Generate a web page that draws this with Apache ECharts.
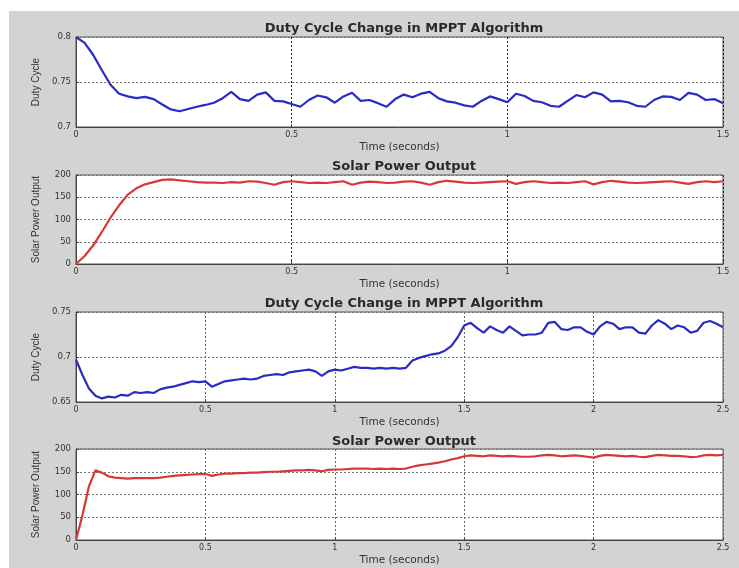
<!DOCTYPE html>
<html>
<head>
<meta charset="utf-8">
<script src="https://cdn.jsdelivr.net/npm/echarts@6/dist/echarts.min.js"></script>
<style>html,body{margin:0;padding:0;background:#fff}#c{width:739px;height:568px}</style>
</head>
<body>
<div id="c"></div>
<script>
// ---- data ----
var titles = ['Duty Cycle Change in MPPT Algorithm', 'Solar Power Output', 'Duty Cycle Change in MPPT Algorithm', 'Solar Power Output'];
var yNames = ['Duty Cycle', 'Solar Power Output', 'Duty Cycle', 'Solar Power Output'];
var xName = 'Time (seconds)';

var time15 = [0,0.02,0.04,0.06,0.08,0.10,0.12,0.14,0.16,0.18,0.20,0.22,0.24,0.26,0.28,0.30,0.32,0.34,0.36,0.38,
  0.40,0.42,0.44,0.46,0.48,0.50,0.52,0.54,0.56,0.58,0.60,0.62,0.64,0.66,0.68,0.70,0.72,0.74,0.76,0.78,
  0.80,0.82,0.84,0.86,0.88,0.90,0.92,0.94,0.96,0.98,1.00,1.02,1.04,1.06,1.08,1.10,1.12,1.14,1.16,1.18,
  1.20,1.22,1.24,1.26,1.28,1.30,1.32,1.34,1.36,1.38,1.40,1.42,1.44,1.46,1.48,1.50];

var duty1 = [0.8000,0.7935,0.7800,0.7630,0.7470,0.7370,0.7340,0.7320,0.7335,0.7310,0.7250,0.7195,0.7175,0.7200,0.7225,0.7245,0.7270,0.7320,0.7390,0.7310,
  0.7290,0.7360,0.7385,0.7290,0.7285,0.7255,0.7225,0.7300,0.7350,0.7330,0.7270,0.7340,0.7380,0.7290,0.7300,0.7265,0.7225,0.7310,0.7360,0.7330,
  0.7370,0.7390,0.7320,0.7285,0.7270,0.7240,0.7225,0.7290,0.7340,0.7310,0.7275,0.7370,0.7345,0.7290,0.7275,0.7235,0.7225,0.7290,0.7355,0.7330,
  0.7385,0.7360,0.7285,0.7290,0.7275,0.7235,0.7225,0.7300,0.7340,0.7335,0.7300,0.7380,0.7360,0.7300,0.7310,0.7265];

var power1 = [0,18,42,72,104,132,156,170,179,184,189,190,188,186,184,183,183,182,184,183,
  186,185,182,178,184,186,184,182,183,182,184,186,178,183,185,184,182,183,185,186,
  183,178,184,187,185,183,182,183,184,185,186,180,184,186,184,182,183,182,184,186,
  179,184,187,185,183,182,183,184,185,186,183,180,184,186,184,186];

var time25 = [0,0.025,0.05,0.075,0.10,0.125,0.15,0.175,0.20,0.225,0.25,0.275,0.30,0.325,0.35,0.375,0.40,0.425,0.45,0.475,
  0.50,0.525,0.55,0.575,0.60,0.625,0.65,0.675,0.70,0.725,0.75,0.775,0.80,0.825,0.85,0.875,0.90,0.925,0.95,0.975,
  1.00,1.025,1.05,1.075,1.10,1.125,1.15,1.175,1.20,1.225,1.25,1.275,1.30,1.325,1.35,1.375,1.40,1.425,1.45,1.475,
  1.50,1.525,1.55,1.575,1.60,1.625,1.65,1.675,1.70,1.725,1.75,1.775,1.80,1.825,1.85,1.875,1.90,1.925,1.95,1.975,
  2.00,2.025,2.05,2.075,2.10,2.125,2.15,2.175,2.20,2.225,2.25,2.275,2.30,2.325,2.35,2.375,2.40,2.425,2.45,2.475,2.50];

var duty2 = [0.697,0.680,0.665,0.657,0.654,0.656,0.655,0.658,0.657,0.661,0.660,0.661,0.660,0.664,0.666,0.667,0.669,0.671,0.673,0.672,
  0.673,0.667,0.670,0.673,0.674,0.675,0.676,0.675,0.676,0.679,0.680,0.681,0.680,0.683,0.684,0.685,0.686,0.684,0.679,0.684,
  0.686,0.685,0.687,0.689,0.688,0.688,0.687,0.688,0.687,0.688,0.687,0.688,0.696,0.699,0.701,0.703,0.704,0.707,0.712,0.722,
  0.735,0.738,0.732,0.727,0.734,0.730,0.727,0.734,0.729,0.724,0.725,0.725,0.727,0.738,0.739,0.731,0.730,0.733,0.733,0.728,
  0.725,0.734,0.739,0.737,0.731,0.733,0.733,0.727,0.726,0.735,0.741,0.737,0.731,0.735,0.733,0.727,0.729,0.738,0.740,0.737,0.733];

var power2 = [0,55,118,153,148,140,137,136,135,136,136,136,136,137,139,141,142,143,144,145,
  145,141,144,146,146,147,147,148,148,149,150,150,151,152,153,153,154,153,151,154,
  155,155,156,157,157,157,156,157,156,157,156,157,161,164,166,168,170,173,177,180,
  184,186,185,184,186,185,184,185,184,183,183,184,186,187,186,184,185,186,185,183,
  181,185,187,186,185,184,185,183,182,185,187,186,185,185,184,182,183,186,187,186,187];

var xTicks15 = [0, 1.5, 0.5];   // min, max, interval
var xTicks25 = [0, 2.5, 0.5];
var dutyTicks1 = [0.7, 0.8, 0.05];
var dutyTicks2 = [0.65, 0.75, 0.05];
var powerTicks = [0, 200, 50];

function pairs(t, v) { return t.map(function (x, i) { return [x, v[i]]; }); }

// ---- layout ----
var gridTops = [37, 175, 312, 449];
var gridHeights = [90, 89, 90, 91];
var titleTops = [17, 155, 292, 430];
var xRanges = [xTicks15, xTicks15, xTicks25, xTicks25];
var yRanges = [dutyTicks1, powerTicks, dutyTicks2, powerTicks];
var seriesData = [pairs(time15, duty1), pairs(time15, power1), pairs(time25, duty2), pairs(time25, power2)];
var colors = ['#2a2ac4', '#d63838', '#2a2ac4', '#d63838'];
var dv = 'DejaVu Sans, Verdana, sans-serif';
var lib = 'Liberation Sans, Arial, sans-serif';

var grids = [], xAxes = [], yAxes = [], series = [], titleArr = [];
for (var i = 0; i < 4; i++) {
  grids.push({left: 76, top: gridTops[i], width: 647, height: gridHeights[i], show: true,
    backgroundColor: '#ffffff', borderColor: '#555', borderWidth: 1, containLabel: false});
  titleArr.push({text: titles[i], left: 399, top: titleTops[i], textAlign: 'center',
    textStyle: {fontSize: 13, fontWeight: 'bold', color: '#2a2a2a', fontFamily: dv}});
  xAxes.push({type: 'value', gridIndex: i, min: xRanges[i][0], max: xRanges[i][1], interval: xRanges[i][2],
    axisLine: {show: true, onZero: false, lineStyle: {color: '#444'}},
    axisTick: {show: true, inside: true, length: 3, lineStyle: {color: '#444'}},
    axisLabel: {fontSize: 8, color: '#333', margin: 4, fontFamily: dv},
    splitLine: {show: true, lineStyle: {type: [2, 2], color: i < 2 ? '#222' : '#666', width: 1}},
    name: xName, nameLocation: 'middle', nameGap: 15,
    nameTextStyle: {fontSize: 10.5, color: '#333', fontFamily: dv}});
  yAxes.push({type: 'value', gridIndex: i, min: yRanges[i][0], max: yRanges[i][1], interval: yRanges[i][2],
    axisLine: {show: true, onZero: false, lineStyle: {color: '#444'}},
    axisTick: {show: true, inside: true, length: 3, lineStyle: {color: '#444'}},
    axisLabel: {fontSize: 8.5, color: '#333', margin: 5, fontFamily: dv},
    splitLine: {show: true, lineStyle: {type: [2, 2], color: '#777', width: 1}},
    name: yNames[i], nameLocation: 'middle', nameRotate: 90, nameGap: 35,
    nameTextStyle: {fontSize: 10, color: '#333', fontFamily: lib}});
  series.push({type: 'line', xAxisIndex: i, yAxisIndex: i, data: seriesData[i], showSymbol: false,
    lineStyle: {color: colors[i], width: 2.2}, itemStyle: {color: colors[i]}, z: 3});
}

var chart = echarts.init(document.getElementById('c'), null, {renderer: 'canvas'});
chart.setOption({
  animation: false,
  backgroundColor: '#ffffff',
  graphic: [{type: 'rect', z: -100, silent: true, shape: {x: 9, y: 11, width: 730, height: 557}, style: {fill: '#d3d3d3'}}],
  title: titleArr,
  grid: grids,
  xAxis: xAxes,
  yAxis: yAxes,
  series: series
});
</script>
</body>
</html>
